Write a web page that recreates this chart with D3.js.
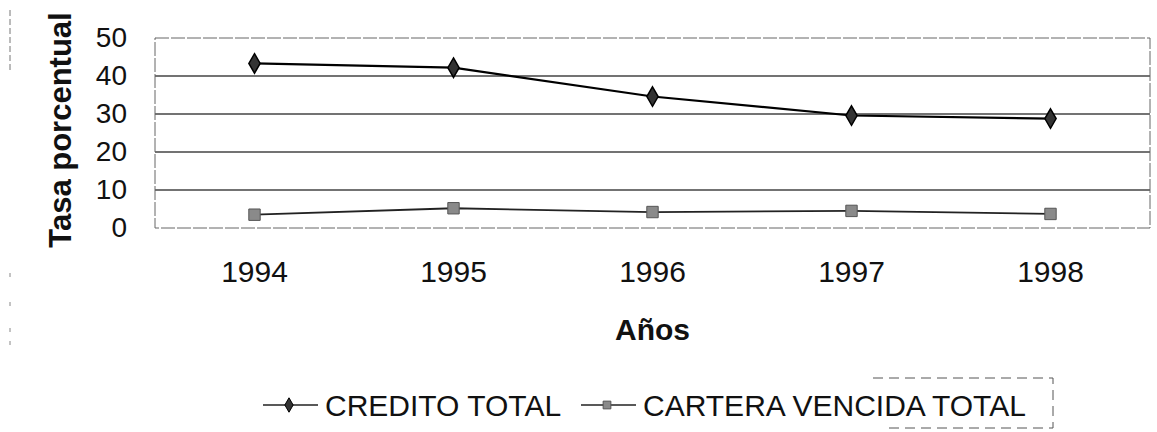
<!DOCTYPE html>
<html>
<head>
<meta charset="utf-8">
<script src="https://cdn.jsdelivr.net/npm/d3@7"></script>
<style>
  html, body { margin: 0; padding: 0; background: #fff; }
  svg { display: block; font-family: Arial, "Liberation Sans", sans-serif; }
</style>
</head>
<body>
<svg id="chart" width="1157" height="432"></svg>
<script>
/* data */
const years = ["1994", "1995", "1996", "1997", "1998"];
const creditoTotal = [43.3, 42.2, 34.6, 29.6, 28.8];
const carteraVencida = [3.5, 5.2, 4.2, 4.5, 3.7];
const yTicks = [0, 10, 20, 30, 40, 50];
const seriesNames = ["CREDITO TOTAL", "CARTERA VENCIDA TOTAL"];

const svg = d3.select("#chart");
const plot = { left: 155, right: 1150, top: 38, bottom: 228 };

const x = d3.scaleBand().domain(years).range([plot.left, plot.right]).padding(0);
const y = d3.scaleLinear().domain([0, 50]).range([plot.bottom, plot.top]);

/* gridlines (0 and 50 are the frame) */
svg.append("g").attr("class", "grid")
  .selectAll("line").data(yTicks.filter(v => v > 0 && v < 50))
  .join("line")
  .attr("x1", plot.left).attr("x2", plot.right)
  .attr("y1", d => y(d)).attr("y2", d => y(d))
  .attr("stroke", "#444").attr("stroke-width", 1.3);

// frame, faint and broken like the scan
svg.append("rect")
  .attr("x", plot.left).attr("y", plot.top)
  .attr("width", plot.right - plot.left).attr("height", plot.bottom - plot.top)
  .attr("fill", "none").attr("stroke", "#666").attr("stroke-width", 1)
  .attr("stroke-dasharray", "14,2");

/* axes */
const yAxis = svg.append("g")
  .attr("transform", `translate(${plot.left},0)`)
  .call(d3.axisLeft(y).tickValues(yTicks).tickSize(0).tickPadding(28));
yAxis.select(".domain").remove();
yAxis.selectAll("text").attr("font-size", 28).attr("fill", "#111")
  .attr("font-family", "Arial, 'Liberation Sans', sans-serif");

const xAxis = svg.append("g")
  .attr("transform", `translate(0,${plot.bottom})`)
  .call(d3.axisBottom(x).tickSize(0).tickPadding(33));
xAxis.select(".domain").remove();
xAxis.selectAll("text").attr("font-size", 30).attr("fill", "#111")
  .attr("font-family", "Arial, 'Liberation Sans', sans-serif");

svg.append("text")
  .attr("transform", "translate(71,130) rotate(-90)")
  .attr("text-anchor", "middle")
  .attr("font-size", 31).attr("font-weight", "bold").attr("fill", "#111")
  .text("Tasa porcentual");

svg.append("text")
  .attr("x", (plot.left + plot.right) / 2).attr("y", 340)
  .attr("text-anchor", "middle")
  .attr("font-size", 30).attr("font-weight", "bold").attr("fill", "#111")
  .text("Años");

/* series */
const cx = d => x(d) + x.bandwidth() / 2;
const line = d3.line().x(d => cx(d.year)).y(d => y(d.v));
const diamond = d3.symbol(d3.symbolDiamond, 110);
const square = d3.symbol(d3.symbolSquare, 130);

const credito = years.map((yr, i) => ({ year: yr, v: creditoTotal[i] }));
const cartera = years.map((yr, i) => ({ year: yr, v: carteraVencida[i] }));

svg.append("path").datum(cartera)
  .attr("d", line).attr("fill", "none")
  .attr("stroke", "#222").attr("stroke-width", 1.8);
svg.append("g").selectAll("path").data(cartera).join("path")
  .attr("d", square)
  .attr("transform", d => `translate(${cx(d.year)},${y(d.v)})`)
  .attr("fill", "#8a8a8a").attr("stroke", "#555").attr("stroke-width", 1);

svg.append("path").datum(credito)
  .attr("d", line).attr("fill", "none")
  .attr("stroke", "#000").attr("stroke-width", 2.2);
svg.append("g").selectAll("path").data(credito).join("path")
  .attr("d", diamond)
  .attr("transform", d => `translate(${cx(d.year)},${y(d.v)})`)
  .attr("fill", "#333").attr("stroke", "#000").attr("stroke-width", 1.5);

/* legend */
const legendY = 405;
const legendItems = [
  { name: seriesNames[0], x0: 263, type: d3.symbolDiamond, fill: "#333", stroke: "#000" },
  { name: seriesNames[1], x0: 581, type: d3.symbolSquare, fill: "#8a8a8a", stroke: "#555" }
];
const lg = svg.append("g").selectAll("g").data(legendItems).join("g")
  .attr("transform", d => `translate(${d.x0},${legendY})`);
lg.append("line").attr("x1", 0).attr("x2", 55)
  .attr("stroke", "#222").attr("stroke-width", 1.6);
lg.append("path").attr("d", d => d3.symbol(d.type, 60)())
  .attr("transform", "translate(26,0)")
  .attr("fill", d => d.fill).attr("stroke", d => d.stroke);
lg.append("text").attr("x", 62).attr("y", 10.5)
  .attr("font-size", 30).attr("fill", "#111")
  .text(d => d.name);

// legend frame only survives on the right in the scan
svg.append("path")
  .attr("d", "M873,378H1053V428H883")
  .attr("fill", "none").attr("stroke", "#555").attr("stroke-width", 1)
  .attr("stroke-dasharray", "10,6");

// stray scan marks at the left edge
svg.append("line").attr("x1", 10).attr("x2", 10).attr("y1", 10).attr("y2", 70)
  .attr("stroke", "#777").attr("stroke-dasharray", "6,3");
svg.append("g").selectAll("line").data([273, 302, 328, 341]).join("line")
  .attr("x1", 10).attr("x2", 10).attr("y1", d => d).attr("y2", d => d + 4)
  .attr("stroke", "#888");
</script>
</body>
</html>
